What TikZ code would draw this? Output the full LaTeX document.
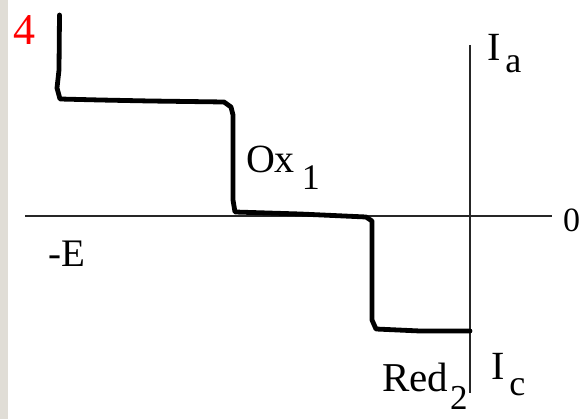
\documentclass[tikz,border=0pt]{standalone}
\usepackage{fontspec}
\setmainfont{Liberation Serif}
\definecolor{stripgray}{RGB}{224,221,214}
\begin{document}
\begin{tikzpicture}[x=1pt,y=-1pt,
  axisline/.style={line width=1.3pt,black!85},
  curveline/.style={line width=4.8pt,black,line join=round,line cap=round},
  lbl/.style={inner sep=0pt,outer sep=0pt,font=\fontsize{40}{40}\selectfont}]
\useasboundingbox (0,0) rectangle (586,419);
\fill[stripgray] (0,0) rectangle (7.5,419);
% axes
\coordinate (xl) at (25,216);
\coordinate (xr) at (552,216);
\coordinate (yt) at (470,45);
\coordinate (yb) at (470,393);
\draw[axisline] (xl) -- (xr);
\draw[axisline] (yt) -- (yb);
% curve
\coordinate (c0) at (59.5,15);
\coordinate (cend) at (470,331);
\draw[curveline] (c0) -- (59,70) -- (57,88) -- (60,99) -- (100,100) -- (150,101)
  -- (224,102) -- (231,107) -- (233,115) -- (233,200) -- (235,212) -- (300,214)
  -- (366,217) -- (372,221) -- (372,320) -- (376,329) -- (420,331) -- (cend);
% labels
\node[lbl,anchor=base,text=red,font=\fontsize{44}{44}\selectfont] (four) at (24.5,45) {4};
\node[lbl,anchor=base west] (ia) at (487,61) {I\hspace{5pt}\raisebox{-12pt}{\fontsize{36}{36}\selectfont a}};
\node[lbl,anchor=base,font=\fontsize{34}{34}\selectfont] (zero) at (571.5,232) {0};
\node[lbl,anchor=base,font=\fontsize{39}{39}\selectfont] (negE) at (67,267) {-E};
\node[lbl,anchor=base west] (ox) at (246,173) {Ox\hspace{7pt}\raisebox{-17pt}{\fontsize{36}{36}\selectfont 1}};
\node[lbl,anchor=base west,font=\fontsize{41}{41}\selectfont] (red) at (382,391) {Red\hspace{2pt}\raisebox{-18pt}{\fontsize{35}{35}\selectfont 2}};
\node[lbl,anchor=base west] (ic) at (491,379) {I\hspace{5pt}\raisebox{-16pt}{\fontsize{36}{36}\selectfont c}};
\end{tikzpicture}
\end{document}
